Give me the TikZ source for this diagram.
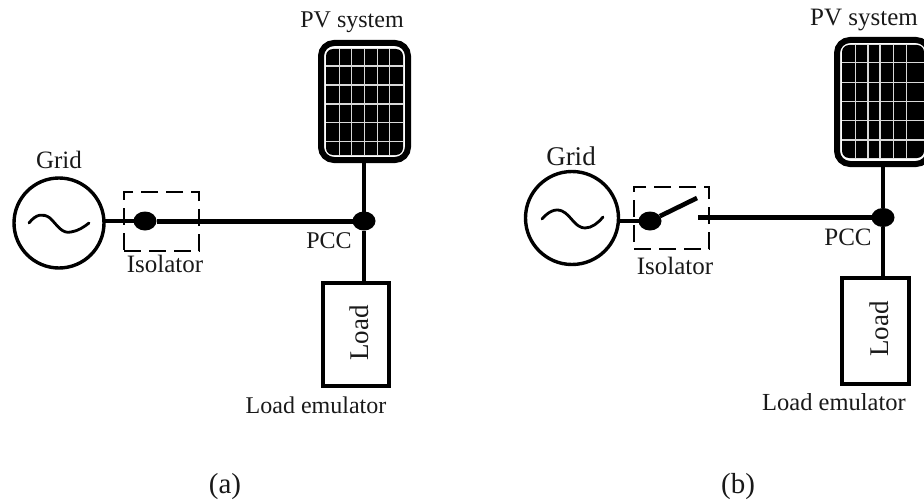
\documentclass[tikz,border=0pt]{standalone}
\usepackage{fontspec}
\setmainfont{Liberation Serif}
\usetikzlibrary{shapes.geometric}
\newcommand{\fs}[1]{\fontsize{#1}{#1}\selectfont}
\tikzset{
  x=1pt,y=-1pt,
  every node/.style={inner sep=0pt,outer sep=0pt},
  lab/.style={anchor=base,text=black!90},
  sourcering/.style={circle,draw,line width=3.4pt,minimum size=90pt},
  junctiondot/.style={ellipse,fill=black,minimum width=23pt,minimum height=19pt},
  isobox/.style={rectangle,draw,line width=2.8pt,dash pattern=on 17pt off 8pt},
  loadbox/.style={rectangle,draw,line width=3.6pt},
  panelframe/.style={rectangle,draw,line width=6pt,rounded corners=13pt},
  cellblock/.style={rectangle,fill=black,rounded corners=7pt},
  wireline/.style={line width=4.6pt},
  busbar/.style={line width=5pt},
  gridline/.style={white!85!black,line width=1.4pt},
  waveline/.style={line width=2.8pt,line cap=round}
}
\begin{document}
\begin{tikzpicture}
\useasboundingbox (0,0) rectangle (924,503);
\clip (0,0) rectangle (924,503);

% ---------- (a)
\node[panelframe,minimum width=87pt,minimum height=117pt] (panelA) at (364.5,101.5) {};
\node[cellblock,minimum width=77pt,minimum height=106pt] (cellsA) at (364.5,102) {};
\foreach \gx in {339.3,351.7,364.3,377.3,389.3}
  \draw[gridline] (\gx,49) -- (\gx,155);
\foreach \gy in {66,85,104,122.7,141.7}
  \draw[gridline] (326,\gy) -- (403,\gy);
\node[sourcering] (gridA) at (59,223) {};
\node[isobox,minimum width=75pt,minimum height=59pt] (isoA) at (161.5,221.5) {};
\node[junctiondot] (dotA) at (145,221) {};
\node[junctiondot] (pccA) at (364,221) {};
\node[loadbox,minimum width=66pt,minimum height=103pt] (loadA) at (356,334.5) {};
\draw[wireline] (dotA -| gridA.east) -- (dotA);
\draw[busbar] (dotA) -- (pccA);
\draw[wireline] (panelA.south -| pccA) -- (pccA);
\draw[wireline] (pccA) -- (pccA |- loadA.north);
\draw[waveline] (29,223) .. controls (36,214) and (43,213) .. (50,218)
  .. controls (58,226) and (62,234) .. (71,232) .. controls (78,231) and (84,227) .. (89,223);
\node[lab,font=\fs{25}] (gridAt) at (59,168) {Grid};
\node[lab,font=\fs{24}] (pvAt) at (352,28) {PV system};
\node[lab,font=\fs{25}] (isoAt) at (165,272) {Isolator};
\node[lab,font=\fs{24}] (pccAt) at (329,248) {PCC};
\node[lab,font=\fs{24}] (emuAt) at (316,413) {Load emulator};
\node[lab,font=\fs{27},rotate=90] (loadAt) at (368,333) {Load};
\node[lab,font=\fs{29}] (capA) at (225,493) {(a)};

% ---------- (b)
\node[panelframe,minimum width=92pt,minimum height=124pt] (panelB) at (883,102) {};
\node[cellblock,minimum width=82pt,minimum height=113pt] (cellsB) at (883,101.5) {};
\foreach \gx in {855.7,868,880,893.3,906.7}
  \draw[gridline] (\gx,45) -- (\gx,158);
\foreach \gy in {62.7,82.7,101.7,120.7,140}
  \draw[gridline] (842,\gy) -- (924,\gy);
\node[sourcering,minimum size=93pt] (gridB) at (572,218) {};
\node[isobox,minimum width=75pt,minimum height=62pt] (isoB) at (671.5,218) {};
\node[junctiondot] (dotB) at (650,221) {};
\node[junctiondot] (pccB) at (883,217.5) {};
\node[loadbox,minimum width=67pt,minimum height=106pt] (loadB) at (875.5,331) {};
\coordinate (armB) at (697,198);
\coordinate (contactB) at (698,217.5);
\draw[wireline] (dotB -| gridB.east) -- (dotB);
\draw[wireline] (dotB) -- (armB);
\draw[wireline] (contactB) -- (pccB);
\draw[wireline] (panelB.south -| pccB) -- (pccB);
\draw[wireline] (pccB) -- (pccB |- loadB.north);
\draw[waveline] (542,219) .. controls (548,212) and (555,208) .. (562,211)
  .. controls (571,215) and (575,228) .. (585,228) .. controls (592,228) and (598,223) .. (603,217);
\node[lab,font=\fs{27}] (gridBt) at (571,165) {Grid};
\node[lab,font=\fs{25}] (pvBt) at (864,26) {PV system};
\node[lab,font=\fs{25}] (isoBt) at (675,274) {Isolator};
\node[lab,font=\fs{25}] (pccBt) at (848,245) {PCC};
\node[lab,font=\fs{24.5}] (emuBt) at (834,410) {Load emulator};
\node[lab,font=\fs{27},rotate=90] (loadBt) at (888,329) {Load};
\node[lab,font=\fs{29}] (capB) at (738,493) {(b)};
\end{tikzpicture}
\end{document}
